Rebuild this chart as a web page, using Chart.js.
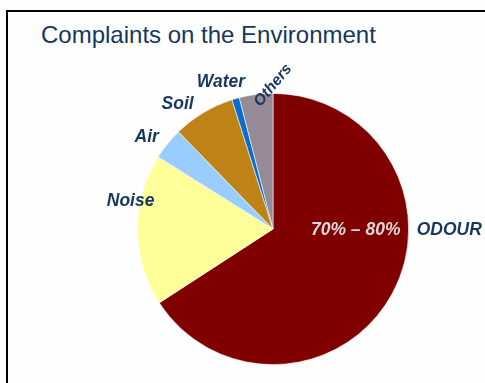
<!DOCTYPE html>
<html>
<head>
<meta charset="utf-8">
<script src="https://cdn.jsdelivr.net/npm/chart.js@4"></script>
<style>
  html, body { margin: 0; padding: 0; background: #fefefe; }
  body { width: 485px; height: 383px; position: relative; overflow: hidden; }
  #frame { position: absolute; left: 6px; top: 10px; width: 500px; height: 400px;
           border-top: 2px solid #000; border-left: 2px solid #000; }
  #title { position: absolute; left: 41px; top: 21px; line-height: 24px;
           font: 24px "Liberation Sans", Arial, sans-serif; color: #17375e; white-space: nowrap; }
  #wrap { position: absolute; left: 0; top: 0; width: 485px; height: 383px; }
</style>
</head>
<body>
<div id="frame"></div>
<div id="title">Complaints on the Environment</div>
<div id="wrap"><canvas id="myChart"></canvas></div>
<script>
const categories = ['ODOUR', 'Noise', 'Air', 'Soil', 'Water', 'Others']
const shares = [65.9, 18.1, 3.8, 7.4, 0.9, 4.0]
const sliceColors = ['#800000', '#ffff99', '#99ccff', '#bf8216', '#0a6ccf', '#958a96']
const odourRange = '70% \u2013 80%'

// where each name sits: shift from the slice middle (degrees) and distance (x radius)
const labelPlacement = [
    {shift: -28, dist: 1.30},
    {shift: 11.5, dist: 1.07},
    {shift: -3, dist: 1.15},
    {shift: -6.4, dist: 1.16},
    {shift: -3.5, dist: 1.15},
    {shift: 7.2, dist: 1.06, rotate: -50}
]

const canvas = document.getElementById('myChart')
let myChart

const sliceLabels = {
    id: 'sliceLabels',
    afterDatasetsDraw(chart) {
        const ctx = chart.ctx
        const arcs = chart.getDatasetMeta(0).data
        ctx.save()
        ctx.textAlign = 'center'
        ctx.textBaseline = 'middle'
        arcs.forEach((arc, i) => {
            const p = labelPlacement[i]
            const mid = (arc.startAngle + arc.endAngle) / 2 + p.shift * Math.PI / 180
            const r = arc.outerRadius * p.dist
            const x = arc.x + Math.cos(mid) * r
            const y = arc.y + Math.sin(mid) * r
            ctx.font = (i === 5 ? 'italic bold 15.5px' : 'italic bold 17.5px') + ' "Liberation Sans", Arial, sans-serif'
            ctx.fillStyle = '#17375e'
            ctx.save()
            ctx.translate(x, y)
            if (p.rotate) ctx.rotate(p.rotate * Math.PI / 180)
            ctx.fillText(categories[i], 0, 0)
            ctx.restore()
            if (i === 0) {
                // range text inside the odour slice
                const a = (arc.startAngle + arc.endAngle) / 2 + p.shift * Math.PI / 180
                const rr = arc.outerRadius * 0.61
                ctx.fillStyle = '#d9d9d9'
                ctx.fillText(odourRange, arc.x + Math.cos(a) * rr, arc.y + Math.sin(a) * rr)
            }
        })
        ctx.restore()
    }
}

function createChart() {
    const config = {
        type: 'pie',
        data: {
            labels: categories,
            datasets: [{
                data: shares,
                backgroundColor: sliceColors,
                borderColor: 'rgba(255,255,255,0.7)',
                borderWidth: 0.8
            }]
        },
        options: {
            responsive: true,
            maintainAspectRatio: false,
            animation: false,
            layout: {
                padding: {left: 137, right: 76, top: 93, bottom: 18}
            },
            plugins: {
                legend: {display: false},
                tooltip: {enabled: false}
            }
        },
        plugins: [sliceLabels]
    }

    myChart = new Chart(canvas, config)
}

createChart()
</script>
</body>
</html>
